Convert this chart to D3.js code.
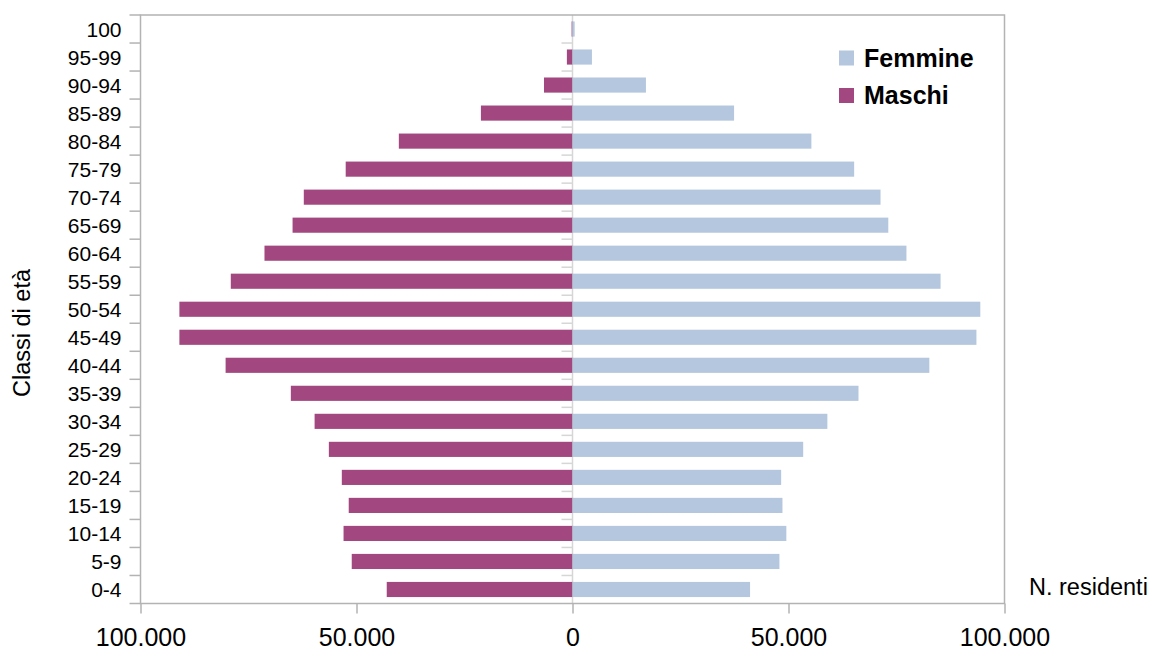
<!DOCTYPE html>
<html>
<head>
<meta charset="utf-8">
<script src="https://cdn.jsdelivr.net/npm/d3@7"></script>
<style>
html,body{margin:0;padding:0;background:#fff;}
svg{display:block;font-family:"Liberation Sans",Arial,sans-serif;}
</style>
</head>
<body>
<svg id="chart" width="1155" height="650"></svg>
<script>
const categories = ["100","95-99","90-94","85-89","80-84","75-79","70-74","65-69","60-64","55-59","50-54","45-49","40-44","35-39","30-34","25-29","20-24","15-19","10-14","5-9","0-4"];
const femmine = [500,4500,17000,37400,55300,65200,71300,73100,77300,85200,94400,93500,82600,66200,59000,53400,48300,48600,49500,47900,41100];
const maschi  = [200,1300,6600,21200,40200,52500,62200,64800,71300,79100,91000,91000,80300,65200,59700,56400,53400,51800,53000,51100,43000];
const xTicks = [-100000,-50000,0,50000,100000];
const seriesNames = ["Femmine","Maschi"];
const colors = {Femmine:"#b4c7de", Maschi:"#a2477f"};
const yTitle = "Classi di età";
const xTitle = "N. residenti";

(function(){
const svg = d3.select("#chart");
const pL = 140.5, pR = 1004.5, pT = 15, pB = 603.5;
const x = d3.scaleLinear().domain([-100000,100000]).range([pL,pR]);
const y = d3.scaleBand().domain(categories).range([pT,pB]).paddingInner(0.46).paddingOuter(0.23);
const step = y.step();
const it = d3.formatLocale({decimal:",",thousands:".",grouping:[3],currency:["€",""]});
const fmt = it.format(",.0f");
const frame = "#b3b3b3";

// center line
svg.append("line").attr("x1",x(0)).attr("x2",x(0)).attr("y1",pT).attr("y2",pB)
  .attr("stroke","#d6d6d6").attr("stroke-width",1.5);

// boundary ticks
const bounds = d3.range(categories.length+1).map(i => pT + i*step);
svg.append("g").selectAll("line").data(bounds).join("line")
  .attr("x1",pL-11).attr("x2",pL).attr("y1",d=>d).attr("y2",d=>d)
  .attr("stroke",frame).attr("stroke-width",1.5);
svg.append("g").selectAll("line").data(bounds.slice(1,-1)).join("line")
  .attr("x1",x(0)-11).attr("x2",x(0)).attr("y1",d=>d).attr("y2",d=>d)
  .attr("stroke","#d6d6d6").attr("stroke-width",1.5);

// bars
const data = categories.map((c,i)=>({c, f:femmine[i], m:maschi[i]}));
svg.append("g").selectAll("rect").data(data).join("rect")
  .attr("x",d=>x(-d.m)).attr("y",d=>y(d.c)).attr("width",d=>x(0)-x(-d.m)).attr("height",y.bandwidth())
  .attr("fill",colors.Maschi);
svg.append("g").selectAll("rect").data(data).join("rect")
  .attr("x",x(0)).attr("y",d=>y(d.c)).attr("width",d=>x(d.f)-x(0)).attr("height",y.bandwidth())
  .attr("fill",colors.Femmine);

// frame
svg.append("path").attr("d",`M${pL},${pB}V${pT}H${pR}V${pB}Z`)
  .attr("fill","none").attr("stroke",frame).attr("stroke-width",1.5);

// x axis
const xa = svg.append("g").attr("transform",`translate(0,${pB})`)
  .call(d3.axisBottom(x).tickValues(xTicks).tickSize(10).tickFormat(d=>fmt(Math.abs(d))));
xa.select(".domain").remove();
xa.selectAll(".tick line").attr("stroke",frame).attr("stroke-width",1.5);
xa.selectAll(".tick text").attr("y",null).attr("dy",null).attr("transform","translate(0,42)")
  .attr("font-size",25).attr("font-family","Liberation Sans, Arial, sans-serif").attr("fill","#000");

// y labels
const ya = svg.append("g").attr("transform",`translate(${pL},0)`)
  .call(d3.axisLeft(y).tickSize(0).tickPadding(19));
ya.select(".domain").remove();
ya.selectAll(".tick text").attr("dy",null).attr("transform","translate(0,7.5)")
  .attr("font-size",21).attr("font-family","Liberation Sans, Arial, sans-serif").attr("fill","#000");

// titles
svg.append("text").attr("transform","translate(30,333) rotate(-90)").attr("text-anchor","middle")
  .attr("font-size",23.5).attr("fill","#000").text(yTitle);
svg.append("text").attr("x",1029).attr("y",595).attr("font-size",23.5).attr("fill","#000").text(xTitle);

// legend
const lg = svg.append("g").selectAll("g").data(seriesNames).join("g")
  .attr("transform",(d,i)=>`translate(839,${50.5 + i*37.5})`);
lg.append("rect").attr("width",15).attr("height",15).attr("fill",d=>colors[d]);
lg.append("text").attr("x",25).attr("y",16).attr("font-size",25).attr("font-weight","bold")
  .attr("fill","#000").text(d=>d);
})();
</script>
</body>
</html>
